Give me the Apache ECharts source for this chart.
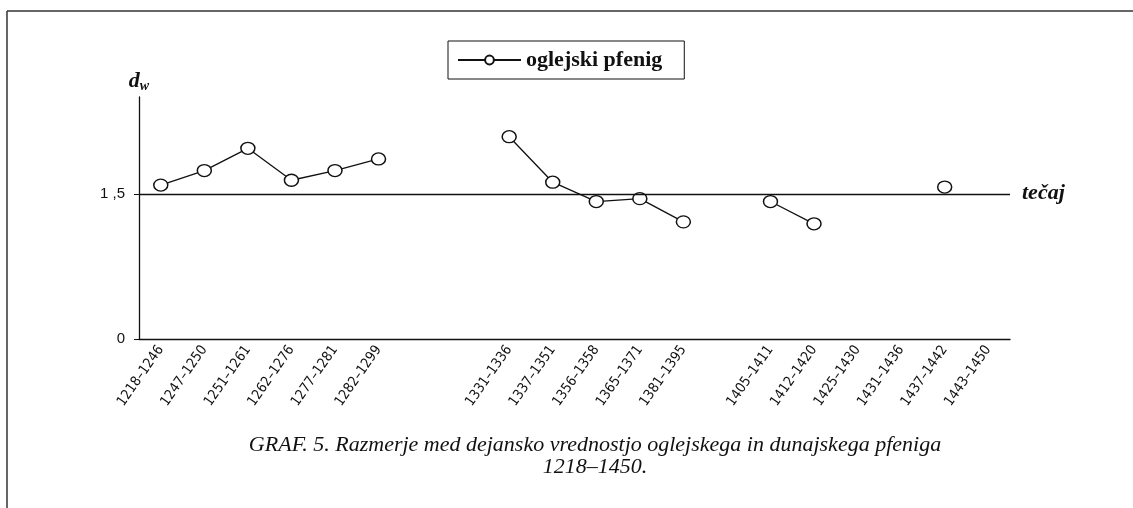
<!DOCTYPE html>
<html>
<head>
<meta charset="utf-8">
<script src="https://cdn.jsdelivr.net/npm/echarts@6/dist/echarts.min.js"></script>
<style>
  html, body { margin: 0; padding: 0; background: #fff; }
  #chart { width: 1133px; height: 508px; }
</style>
</head>
<body>
<div id="chart"></div>
<script>
// obdobja (prazni nizi so vrzeli na osi)
const periods = ['1218–1246', '1247–1250', '1251–1261', '1262–1276', '1277–1281', '1282–1299', ' ', '  ',
  '1331–1336', '1337–1351', '1356–1358', '1365–1371', '1381–1395', '   ',
  '1405–1411', '1412–1420', '1425–1430', '1431–1436', '1437–1442', '1443–1450'];
// d_w oglejskega pfeniga
const dwValues = [1.59, 1.74, 1.97, 1.64, 1.74, 1.86, null, null,
  2.09, 1.62, 1.42, 1.45, 1.21, null,
  1.42, 1.19, null, null, 1.57, null];
const yTicks = [0, 1.5];
const rate = 1.5; // tečaj

const serif = '"Liberation Serif", "DejaVu Serif", serif';

let myChart = echarts.init(document.getElementById('chart'));

let option = {
  backgroundColor: '#fff',
  animation: false,
  title: {
    text: 'GRAF. 5. Razmerje med dejansko vrednostjo oglejskega in dunajskega pfeniga\n1218–1450.',
    left: 590,
    top: 429,
    textAlign: 'center',
    textStyle: {
      fontFamily: serif,
      fontStyle: 'italic',
      fontWeight: 'normal',
      fontSize: 22,
      lineHeight: 22,
      color: '#111'
    }
  },
  legend: {
    left: 448,
    top: 41,
    data: ['oglejski pfenig'],
    borderColor: '#111',
    borderWidth: 1,
    padding: [8, 22, 8, 9],
    itemWidth: 63,
    itemHeight: 11,
    selectedMode: false,
    textStyle: {
      fontFamily: serif,
      fontWeight: 'bold',
      fontSize: 22,
      color: '#111'
    }
  },
  grid: {
    left: 139,
    right: 123,
    top: 97,
    bottom: 169
  },
  xAxis: {
    type: 'category',
    data: periods,
    boundaryGap: true,
    axisLine: { lineStyle: { color: '#111', width: 1.3 } },
    axisTick: { length: 4, lineStyle: { color: '#111' } },
    axisLabel: {
      rotate: 55,
      interval: 0,
      margin: 8,
      fontFamily: '"Liberation Sans Narrow", "DejaVu Sans Condensed", sans-serif',
      fontSize: 14,
      color: '#111'
    }
  },
  yAxis: {
    type: 'value',
    min: 0,
    max: 2.5,
    name: '{d|d}{w|w}',
    nameLocation: 'end',
    nameGap: 4,
    nameTextStyle: {
      align: 'center',
      rich: {
        d: { fontFamily: serif, fontStyle: 'italic', fontWeight: 'bold', fontSize: 22, color: '#111' },
        w: { fontFamily: serif, fontStyle: 'italic', fontWeight: 'bold', fontSize: 14, color: '#111', verticalAlign: 'bottom', padding: [9, 0, 0, 0] }
      }
    },
    axisLine: { show: true, lineStyle: { color: '#111', width: 1.3 } },
    axisTick: { show: true, length: 5, customValues: yTicks, lineStyle: { color: '#111' } },
    splitLine: { show: false },
    axisLabel: {
      customValues: yTicks,
      margin: 14,
      fontFamily: '"Liberation Sans", Arial, sans-serif',
      fontSize: 15,
      color: '#111',
      formatter: function (v) {
        return v === 0 ? '0' : String(v).replace('.', ' ,');
      }
    }
  },
  series: [
    {
      name: 'oglejski pfenig',
      type: 'line',
      data: dwValues,
      connectNulls: false,
      symbol: 'circle',
      symbolSize: [14, 12],
      showAllSymbol: true,
      itemStyle: { color: '#fff', borderColor: '#111', borderWidth: 1.4 },
      lineStyle: { color: '#111', width: 1.3 },
      markLine: {
        silent: true,
        symbol: 'none',
        lineStyle: { color: '#111', width: 1.3, type: 'solid' },
        label: {
          show: true,
          position: 'end',
          distance: 12,
          formatter: 'tečaj',
          fontFamily: serif,
          fontStyle: 'italic',
          fontWeight: 'bold',
          fontSize: 22,
          color: '#111'
        },
        data: [{ yAxis: rate }]
      }
    }
  ],
  graphic: [
    { type: 'line', shape: { x1: 7, y1: 11, x2: 1133, y2: 11 }, style: { stroke: '#333', lineWidth: 1.5 } },
    { type: 'line', shape: { x1: 7, y1: 11, x2: 7, y2: 508 }, style: { stroke: '#333', lineWidth: 1.5 } }
  ]
};

myChart.setOption(option);
</script>
</body>
</html>
